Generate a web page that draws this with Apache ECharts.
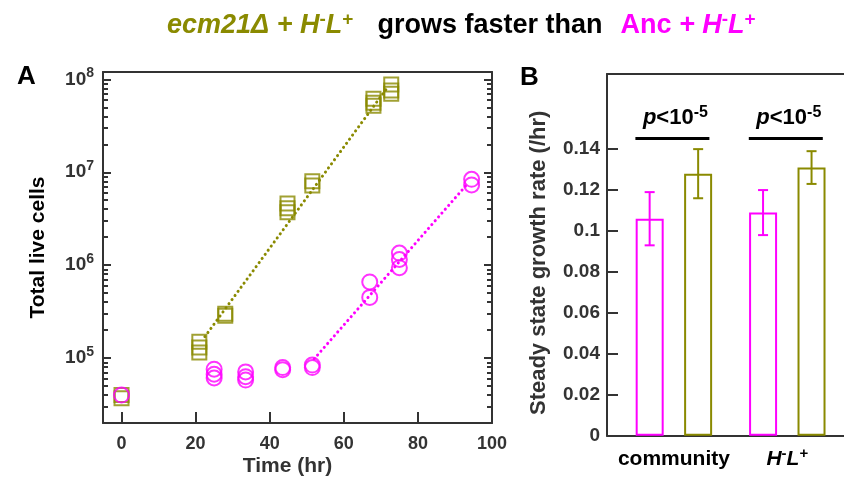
<!DOCTYPE html>
<html><head><meta charset="utf-8">
<script src="https://cdn.jsdelivr.net/npm/echarts@6/dist/echarts.min.js"></script>
<style>html,body{margin:0;padding:0;background:#fff}#c{width:844px;height:482px}</style>
</head><body><div id="c"></div>
<script>
const OLIVE = '#8a8a00';
const MAG = '#ff00ff';
const AX = '#333333';
const FONT = '"Liberation Sans", Arial, sans-serif';

// ---------- Panel A data (total live cells vs time) ----------
const ecmTime  = [0, 0, 21, 21, 21, 28, 28, 44.8, 44.8, 44.8, 51.5, 51.5, 68, 68, 68, 72.8, 72.8, 72.8];
const ecmCells = [3.7e4, 4.0e4, 1.5e5, 1.3e5, 1.15e5, 3.0e5, 2.85e5, 4.6e6, 4.1e6, 3.7e6, 8.0e6, 7.2e6, 6.2e7, 5.6e7, 5.2e7, 8.8e7, 7.6e7, 7.0e7];
const ancTime  = [0, 25, 25, 25, 33.5, 33.5, 33.5, 43.5, 43.5, 51.5, 51.5, 67, 67, 75, 75, 75, 94.5, 94.5];
const ancCells = [4.0e4, 7.6e4, 6.7e4, 6.1e4, 7.1e4, 6.3e4, 5.8e4, 7.9e4, 7.5e4, 8.4e4, 7.9e4, 6.6e5, 4.5e5, 1.35e6, 1.15e6, 9.4e5, 8.4e6, 7.3e6];
const ecmFitTime  = [22.5, 71.5];
const ecmFitCells = [1.7e5, 7.9e7];
const ancFitTime  = [52, 93];
const ancFitCells = [9.8e4, 7.2e6];
const timeTicks   = [0, 20, 40, 60, 80, 100];
const decadeTicks = [1e5, 1e6, 1e7, 1e8];
const cellsMin = 2e4, cellsMax = 1.2e8;

// ---------- Panel B data (steady state growth rate) ----------
const groups  = ['community', 'H⁻L⁺'];
const ancRate = [0.106, 0.109];
const ancErr  = [0.013, 0.011];
const ecmRate = [0.128, 0.131];
const ecmErr  = [0.012, 0.008];
const rateTicks = [0, 0.02, 0.04, 0.06, 0.08, 0.1, 0.12, 0.14];
const pLevel = [0.1452, 0.1452];
const rateMax = 0.1767;

const L = Math.log10;
const minorTicks = [];
for (let e = 4; e <= 8; e++) for (let k = 2; k <= 9; k++) {
  const v = k * Math.pow(10, e);
  if (v >= cellsMin && v <= cellsMax) minorTicks.push(L(v));
}
const zip = (xs, ys) => xs.map((x, i) => [x, L(ys[i])]);

const BAR_W = 28, BAR_OFF = 24.25;

function yAxisA(pos, major, withLabel) {
  return {
    type: 'value', gridIndex: 0, position: pos, min: L(cellsMin), max: L(cellsMax),
    axisLine: { show: major, onZero: false, lineStyle: { color: AX, width: 2 } },
    axisTick: { show: true, inside: true, length: major ? 8 : 5,
      customValues: major ? decadeTicks.map(L) : minorTicks,
      lineStyle: { color: AX, width: 2 } },
    axisLabel: withLabel ? {
      show: true, margin: 9, customValues: decadeTicks.map(L),
      formatter: v => '{b|10}{s|' + Math.round(v) + '}',
      rich: {
        b: { fontFamily: FONT, fontWeight: 'bold', fontSize: 19, color: AX, lineHeight: 26 },
        s: { fontFamily: FONT, fontWeight: 'bold', fontSize: 14, color: AX, lineHeight: 13, verticalAlign: 'top' }
      }
    } : { show: false },
    splitLine: { show: false },
    name: withLabel ? 'Total live cells' : '',
    nameLocation: 'middle', nameGap: 54, nameMoveOverlap: false,
    nameTextStyle: { fontFamily: FONT, fontWeight: 'bold', fontSize: 21, color: '#000' }
  };
}

const TS = 27;
const option = {
  animation: false,
  backgroundColor: '#fff',
  title: [
    {
      left: 162, top: 5,
      text: '{o|ecm21Δ + H}{os|-}{o|L}{os|+}{g1| }{k|grows faster than}{g2| }{m|Anc }{o2|+ H}{ms|-}{o2|L}{ms|+}',
      textStyle: {
        rich: {
          o:  { fontFamily: FONT, fontWeight: 'bold', fontStyle: 'italic', fontSize: TS, color: OLIVE, lineHeight: 32 },
          os: { fontFamily: FONT, fontWeight: 'bold', fontSize: 19, color: OLIVE, lineHeight: 16, verticalAlign: 'top' },
          g1: { fontSize: TS, width: 24, lineHeight: 32 },
          g2: { fontSize: TS, width: 18, lineHeight: 32 },
          k:  { fontFamily: FONT, fontWeight: 'bold', fontSize: TS, color: '#000', lineHeight: 32 },
          m:  { fontFamily: FONT, fontWeight: 'bold', fontSize: TS, color: MAG, lineHeight: 32 },
          o2: { fontFamily: FONT, fontWeight: 'bold', fontStyle: 'italic', fontSize: TS, color: MAG, lineHeight: 32 },
          ms: { fontFamily: FONT, fontWeight: 'bold', fontSize: 19, color: MAG, lineHeight: 16, verticalAlign: 'top' }
        }
      }
    },
    { left: 12, top: 59, text: 'A', textStyle: { fontFamily: FONT, fontWeight: 'bold', fontSize: 26, color: '#000' } },
    { left: 515, top: 60, text: 'B', textStyle: { fontFamily: FONT, fontWeight: 'bold', fontSize: 26, color: '#000' } }
  ],
  grid: [
    { left: 103, top: 72, width: 389, height: 353 },
    { left: 607, top: 74, width: 280, height: 361.7 },
    { left: 617.2, top: 74, width: 232, height: 361.7 }
  ],
  xAxis: [
    { type: 'value', gridIndex: 0, position: 'bottom', min: -5, max: 100,
      axisLine: { onZero: false, lineStyle: { color: AX, width: 2 } },
      axisTick: { inside: true, length: 11, customValues: timeTicks, lineStyle: { color: AX, width: 2 } },
      axisLabel: { customValues: timeTicks, margin: 12, fontFamily: FONT, fontWeight: 'bold', fontSize: 18, color: AX },
      splitLine: { show: false },
      name: 'Time (hr)', nameLocation: 'middle', nameGap: 33, nameMoveOverlap: false,
      nameTextStyle: { fontFamily: FONT, fontWeight: 'bold', fontSize: 21, color: AX, padding: [0, 20, 0, 0] } },
    { type: 'value', gridIndex: 0, position: 'top', min: -5, max: 100,
      axisLine: { onZero: false, lineStyle: { color: AX, width: 2 } },
      axisTick: { show: false }, axisLabel: { show: false }, splitLine: { show: false } },
    { type: 'value', gridIndex: 1, position: 'bottom', min: 0, max: 1,
      axisLine: { onZero: false, lineStyle: { color: AX, width: 2 } },
      axisTick: { show: false }, axisLabel: { show: false }, splitLine: { show: false } },
    { type: 'value', gridIndex: 1, position: 'top', min: 0, max: 1,
      axisLine: { onZero: false, lineStyle: { color: AX, width: 2 } },
      axisTick: { show: false }, axisLabel: { show: false }, splitLine: { show: false } },
    { type: 'category', gridIndex: 2, position: 'bottom', data: groups,
      axisLine: { show: false }, axisTick: { show: false },
      axisLabel: { margin: 11, interval: 0, hideOverlap: false,
        formatter: v => v === 'community' ? '{c|community}' : '{i|H}{s|-}{i|L}{s|+}',
        rich: {
          c: { fontFamily: FONT, fontWeight: 'bold', fontSize: 21, color: '#000', lineHeight: 26 },
          i: { fontFamily: FONT, fontWeight: 'bold', fontStyle: 'italic', fontSize: 21, color: '#000', lineHeight: 26 },
          s: { fontFamily: FONT, fontWeight: 'bold', fontSize: 15, color: '#000', lineHeight: 13, verticalAlign: 'top' }
        } } }
  ],
  yAxis: [
    yAxisA('left', true, true),
    yAxisA('left', false, false),
    yAxisA('right', true, false),
    yAxisA('right', false, false),
    { type: 'value', gridIndex: 1, position: 'left', min: 0, max: rateMax,
      axisLine: { onZero: false, lineStyle: { color: AX, width: 2 } },
      axisTick: { inside: true, length: 11, customValues: rateTicks, lineStyle: { color: AX, width: 2 } },
      axisLabel: { customValues: rateTicks, margin: 7, fontFamily: FONT, fontWeight: 'bold', fontSize: 19, color: AX },
      splitLine: { show: false },
      name: 'Steady state growth rate (/hr)', nameLocation: 'middle', nameGap: 57, nameMoveOverlap: false,
      nameTextStyle: { fontFamily: FONT, fontWeight: 'bold', fontSize: 22, color: AX, padding: [0, 16, 0, 0] } },
    { type: 'value', gridIndex: 2, min: 0, max: rateMax, show: false, splitLine: { show: false } }
  ],
  series: [
    { type: 'line', xAxisIndex: 0, yAxisIndex: 0, data: zip(ecmFitTime, ecmFitCells), symbol: 'none',
      lineStyle: { color: OLIVE, width: 3, type: [0.1, 5], cap: 'round' }, z: 2 },
    { type: 'line', xAxisIndex: 0, yAxisIndex: 0, data: zip(ancFitTime, ancFitCells), symbol: 'none',
      lineStyle: { color: MAG, width: 3, type: [0.1, 5], cap: 'round' }, z: 2 },
    { type: 'scatter', xAxisIndex: 0, yAxisIndex: 0, data: zip(ecmTime, ecmCells), symbol: 'rect', symbolSize: 14,
      itemStyle: { color: 'rgba(0,0,0,0)', borderColor: OLIVE, borderWidth: 2 }, z: 3 },
    { type: 'scatter', xAxisIndex: 0, yAxisIndex: 0, data: zip(ancTime, ancCells), symbol: 'circle', symbolSize: 15,
      itemStyle: { color: 'rgba(0,0,0,0)', borderColor: MAG, borderWidth: 2 }, z: 4 },
    { type: 'bar', xAxisIndex: 4, yAxisIndex: 5, data: ancRate, barWidth: BAR_W, barGap: '73%',
      itemStyle: { color: '#fff', borderColor: MAG, borderWidth: 2 } },
    { type: 'bar', xAxisIndex: 4, yAxisIndex: 5, data: ecmRate, barWidth: BAR_W, barGap: '73%',
      itemStyle: { color: '#fff', borderColor: OLIVE, borderWidth: 2 } },
    { type: 'custom', xAxisIndex: 4, yAxisIndex: 5, z: 5,
      data: ancRate.map((v, i) => [i, v - ancErr[i], v + ancErr[i], -1])
        .concat(ecmRate.map((v, i) => [i, v - ecmErr[i], v + ecmErr[i], 1])),
      renderItem: (params, api) => {
        const side = api.value(3);
        const lo = api.coord([api.value(0), api.value(1)]);
        const hi = api.coord([api.value(0), api.value(2)]);
        const x = lo[0] + side * BAR_OFF;
        const col = side < 0 ? MAG : OLIVE;
        const st = { stroke: col, lineWidth: 2 };
        return { type: 'group', children: [
          { type: 'line', shape: { x1: x, y1: lo[1], x2: x, y2: hi[1] }, style: st },
          { type: 'line', shape: { x1: x - 5, y1: lo[1], x2: x + 5, y2: lo[1] }, style: st },
          { type: 'line', shape: { x1: x - 5, y1: hi[1], x2: x + 5, y2: hi[1] }, style: st }
        ] };
      } },
    { type: 'custom', xAxisIndex: 4, yAxisIndex: 5, z: 5,
      data: pLevel.map((v, i) => [i, v]),
      renderItem: (params, api) => {
        const c = api.coord([api.value(0), api.value(1)]);
        return { type: 'group', children: [
          { type: 'line', shape: { x1: c[0] - 38.5, y1: c[1], x2: c[0] + 35.5, y2: c[1] },
            style: { stroke: '#000', lineWidth: 3 } },
          { type: 'text', x: c[0] + 1.5, y: c[1] - 8, style: {
              text: '{p|p}{n|<10}{s|-5}', align: 'center', verticalAlign: 'bottom',
              rich: {
                p: { fontFamily: FONT, fontWeight: 'bold', fontStyle: 'italic', fontSize: 22, fill: '#000', lineHeight: 26 },
                n: { fontFamily: FONT, fontWeight: 'bold', fontSize: 22, fill: '#000', lineHeight: 26 },
                s: { fontFamily: FONT, fontWeight: 'bold', fontSize: 16, fill: '#000', lineHeight: 13, verticalAlign: 'top' }
              } } }
        ] };
      } }
  ]
};

const chart = echarts.init(document.getElementById('c'), null, { renderer: 'canvas' });
chart.setOption(option);
</script>
</body></html>
